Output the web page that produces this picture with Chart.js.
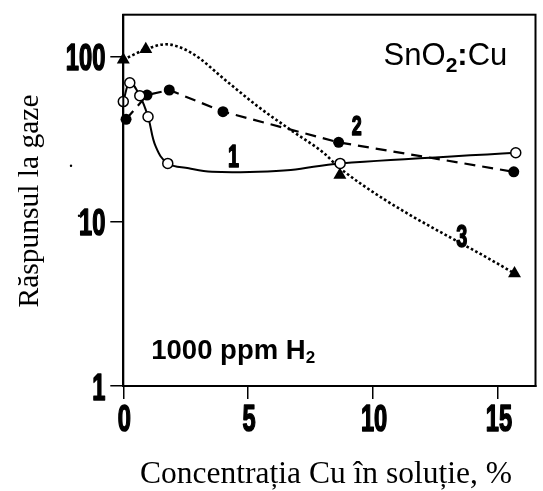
<!DOCTYPE html>
<html>
<head>
<meta charset="utf-8">
<script src="https://cdn.jsdelivr.net/npm/chart.js@4/dist/chart.umd.min.js"></script>
<style>
html, body { margin: 0; padding: 0; background: #fff; }
</style>
</head>
<body>
<canvas id="myChart" width="543" height="491"></canvas>
<script>
// axe
const xTicks = [0, 5, 10, 15]
const yTicks = [1, 10, 100]

// 1 - cercuri goale, curba continua
const conc1 = [0, 0.26, 0.66, 0.99, 1.78, 8.68, 15.71]
const resp1 = [53.4, 69.5, 58, 43.2, 22.5, 22.5, 26.1]
const curveX1 = [0, 0.26, 0.66, 0.99, 1.3, 1.78, 2.62, 3.55, 5.4, 6.7, 8.68, 15.71]
const curveY1 = [53.4, 69.5, 58, 43.2, 28.4, 22.5, 21.0, 20.0, 20, 20.5, 22.5, 26.1]

// 2 - cercuri pline, linie intrerupta
const conc2 = [0.11, 0.95, 1.84, 3.99, 8.62, 15.63]
const resp2 = [41.7, 58.5, 62.8, 46.4, 30.2, 20.0]

// 3 - triunghiuri, linie punctata
const conc3 = [0, 0.9, 8.67, 15.66]
const resp3 = [96, 110.9, 19.1, 4.82]
const curveX3 = [0, 0.9, 1.7, 2.75, 4.08, 5.4, 6.7, 8.04, 8.67, 15.66]
const curveY3 = [96, 110.9, 119, 105, 72.2, 49.7, 35.9, 25.9, 21, 4.82]

const toPoints = (xs, ys) => xs.map((x, i) => ({x: x, y: ys[i]}))

// numerele curbelor, in coordonate de date
const curveLabels = [
	{text: '1', x: 4.41, y: 21.3, size: 31},
	{text: '2', x: 9.34, y: 33.5, size: 28},
	{text: '3', x: 13.55, y: 6.96, size: 31}
]

const boldNarrow = (ctx, text, x, y, size, align) => {
	ctx.save()
	ctx.translate(x, y)
	ctx.scale(0.64, 1)
	ctx.font = 'bold ' + size + 'px "Liberation Sans", Arial, sans-serif'
	ctx.textAlign = align
	ctx.textBaseline = 'alphabetic'
	ctx.fillStyle = '#000'
	ctx.strokeStyle = '#000'
	ctx.lineWidth = 1.6
	ctx.lineJoin = 'round'
	ctx.fillText(text, 0, 0)
	ctx.strokeText(text, 0, 0)
	ctx.restore()
}

const textPlugin = {
	id: 'texts',
	afterDraw(chart) {
		const ctx = chart.ctx
		const area = chart.chartArea
		const sx = chart.scales.x
		const sy = chart.scales.y

		// chenarul graficului
		ctx.save()
		ctx.strokeStyle = '#000'
		ctx.lineWidth = 2
		ctx.strokeRect(area.left, area.top, area.right - area.left, area.bottom - area.top)
		ctx.restore()

		sy.ticks.forEach(t => {
			boldNarrow(ctx, String(t.value), area.left - 18, sy.getPixelForValue(t.value) + 13.5, 37, 'right')
		})
		sx.ticks.forEach(t => {
			boldNarrow(ctx, String(t.value), sx.getPixelForValue(t.value) + 1, area.bottom + 45, 37, 'center')
		})

		curveLabels.forEach(l => {
			boldNarrow(ctx, l.text, sx.getPixelForValue(l.x), sy.getPixelForValue(l.y), l.size, 'center')
		})

		ctx.save()
		ctx.fillStyle = '#000'
		ctx.textBaseline = 'alphabetic'
		ctx.textAlign = 'left'

		// SnO2:Cu
		let x = sx.getPixelForValue(10.42)
		let y = sy.getPixelForValue(89)
		ctx.font = '31px "Liberation Sans", Arial, sans-serif'
		ctx.fillText('SnO', x, y)
		x += ctx.measureText('SnO').width
		ctx.font = 'bold 21px "Liberation Sans", Arial, sans-serif'
		ctx.fillText('2', x, y + 6.5)
		x += ctx.measureText('2').width
		ctx.font = 'bold 31px "Liberation Sans", Arial, sans-serif'
		ctx.fillText(':', x, y)
		x += ctx.measureText(':').width
		ctx.font = '31px "Liberation Sans", Arial, sans-serif'
		ctx.fillText('Cu', x, y)

		// 1000 ppm H2
		x = sx.getPixelForValue(1.12)
		y = sy.getPixelForValue(1.45)
		ctx.font = 'bold 27.5px "Liberation Sans", Arial, sans-serif'
		ctx.fillText('1000 ppm H', x, y)
		x += ctx.measureText('1000 ppm H').width
		ctx.font = 'bold 17px "Liberation Sans", Arial, sans-serif'
		ctx.fillText('2', x, y + 3.5)

		// titlurile axelor
		ctx.font = '31.5px "Liberation Serif", "Times New Roman", serif'
		ctx.textAlign = 'center'
		ctx.fillText('Concentrația Cu în soluție, %', 326, 482.7)

		ctx.save()
		ctx.translate(38, 201)
		ctx.rotate(-Math.PI / 2)
		ctx.font = '29.5px "Liberation Serif", "Times New Roman", serif'
		ctx.fillText('Răspunsul la gaze', 0, 0)
		ctx.restore()

		ctx.font = '20px "Liberation Serif", "Times New Roman", serif'
		ctx.fillText('.', 71, 167)
		ctx.fillText('.', 79, 217)
		ctx.restore()
	}
}

const chart = new Chart('myChart', {
	type: 'scatter',
	data: {
		datasets: [
			{
				data: toPoints(conc1, resp1),
				pointStyle: 'circle', pointRadius: 5,
				pointBackgroundColor: '#fff', pointBorderColor: '#000', pointBorderWidth: 1.5,
				showLine: false, order: 0
			},
			{
				data: toPoints(conc2, resp2),
				pointStyle: 'circle', pointRadius: 5.5,
				pointBackgroundColor: '#000', pointBorderColor: '#000', pointBorderWidth: 0,
				borderColor: '#000', borderWidth: 2.2, borderDash: [11, 7],
				showLine: true, tension: 0, order: 1
			},
			{
				data: toPoints(conc3, resp3),
				pointStyle: 'triangle', pointRadius: 7.5,
				pointBackgroundColor: '#000', pointBorderColor: '#000', pointBorderWidth: 0,
				showLine: false, order: 0
			},
			{
				data: toPoints(curveX1, curveY1),
				pointRadius: 0, borderColor: '#000', borderWidth: 2,
				showLine: true, tension: 0.4, order: 2
			},
			{
				data: toPoints(curveX3, curveY3),
				pointRadius: 0, borderColor: '#000', borderWidth: 2.6, borderDash: [2.6, 2.4],
				showLine: true, cubicInterpolationMode: 'monotone', order: 2
			}
		]
	},
	options: {
		responsive: false,
		animation: false,
		devicePixelRatio: 1,
		clip: false,
		layout: {padding: {left: 110.3, right: 1.5, top: 14.7, bottom: 92}},
		plugins: {legend: {display: false}, tooltip: {enabled: false}},
		scales: {
			x: {
				type: 'linear', min: 0, max: 16.5,
				afterBuildTicks: s => { s.ticks = xTicks.map(v => ({value: v})) },
				grid: {drawOnChartArea: false, drawTicks: true, tickLength: 13, color: '#000', lineWidth: 1.5},
				border: {display: true, color: '#000', width: 2},
				ticks: {display: false}
			},
			y: {
				type: 'logarithmic', min: 1, max: 180,
				afterBuildTicks: s => { s.ticks = yTicks.map(v => ({value: v})) },
				grid: {drawOnChartArea: false, drawTicks: true, tickLength: 13, color: '#000', lineWidth: 1.5},
				border: {display: true, color: '#000', width: 2},
				ticks: {display: false}
			}
		}
	},
	plugins: [textPlugin]
})
</script>
</body>
</html>
